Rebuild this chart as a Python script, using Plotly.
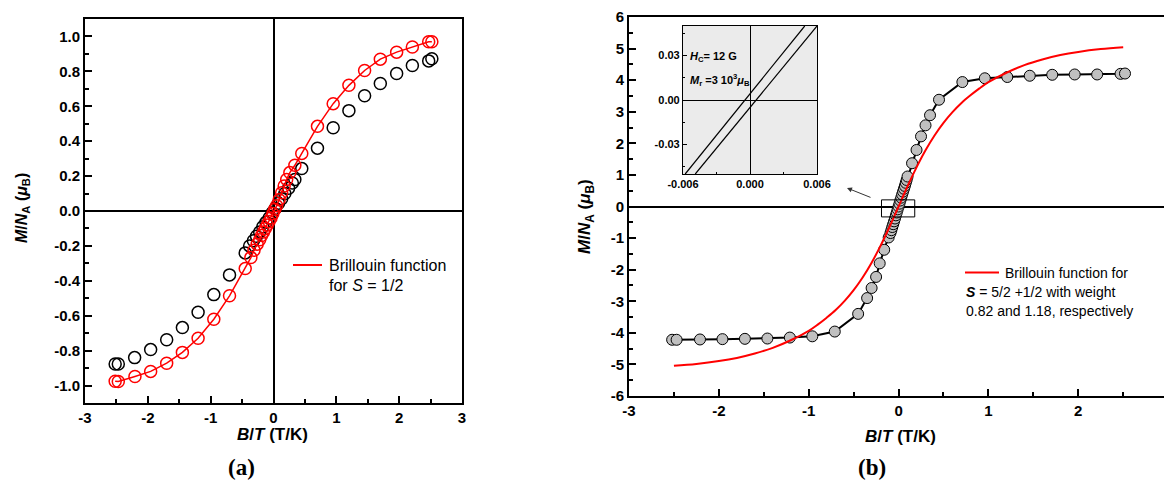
import plotly.graph_objects as go

FONT = "Liberation Sans, Arial, sans-serif"
SERIF = "Liberation Serif, Times New Roman, serif"

# ---------------- Panel (a) data ----------------
a_black_x = [-2.52, -2.47, -2.21, -1.955, -1.70, -1.45, -1.20, -0.95, -0.70, -0.45, -0.38, -0.32, -0.27,
             -0.22, -0.17, -0.12, -0.07, -0.02, 0.03, 0.08, 0.13, 0.18, 0.24, 0.30, 0.34, 0.45, 0.70,
             0.95, 1.20, 1.45, 1.70, 1.96, 2.21, 2.47, 2.52]
a_black_y = [-0.877, -0.877, -0.84, -0.794, -0.738, -0.668, -0.58, -0.479, -0.366, -0.24, -0.20, -0.17,
             -0.145, -0.12, -0.09, -0.065, -0.04, -0.01, 0.015, 0.045, 0.07, 0.10, 0.13, 0.16, 0.18,
             0.243, 0.36, 0.477, 0.575, 0.66, 0.73, 0.788, 0.834, 0.86, 0.872]

a_red_x = [-2.52, -2.47, -2.205, -1.955, -1.70, -1.45, -1.20, -0.95, -0.70, -0.45, -0.36, -0.31, -0.26,
           -0.22, -0.19, -0.16, -0.13, -0.10, -0.07, -0.04, -0.01, 0.02, 0.05, 0.09, 0.13, 0.17, 0.21,
           0.26, 0.34, 0.45, 0.70, 0.95, 1.20, 1.45, 1.70, 1.96, 2.21, 2.47, 2.52]
a_red_y = [-0.975, -0.977, -0.948, -0.919, -0.872, -0.81, -0.729, -0.62, -0.486, -0.33, -0.267, -0.225,
           -0.19, -0.165, -0.14, -0.12, -0.10, -0.08, -0.06, -0.04, -0.015, 0.01, 0.03, 0.065, 0.105,
           0.143, 0.181, 0.22, 0.262, 0.33, 0.485, 0.615, 0.72, 0.805, 0.87, 0.91, 0.94, 0.97, 0.97]

a_xticks = [-3, -2, -1, 0, 1, 2, 3]
a_xticktext = ["-3", "-2", "-1", "0", "1", "2", "3"]
a_yticks = [-1.0, -0.8, -0.6, -0.4, -0.2, 0.0, 0.2, 0.4, 0.6, 0.8, 1.0]
a_yticktext = ["-1.0", "-0.8", "-0.6", "-0.4", "-0.2", "0.0", "0.2", "0.4", "0.6", "0.8", "1.0"]

# ---------------- Panel (b) data ----------------
b_data_x = [-2.52, -2.47, -2.21, -1.96, -1.71, -1.46, -1.21, -0.96, -0.71, -0.45, -0.35, -0.30, -0.25,
            -0.21, -0.16, -0.11, -0.09, -0.08, -0.07, -0.06, -0.05, -0.04, -0.03, -0.02, -0.01, 0.0,
            0.01, 0.02, 0.03, 0.04, 0.05, 0.06, 0.07, 0.08, 0.09, 0.10, 0.15, 0.20, 0.25, 0.30, 0.35,
            0.45, 0.71, 0.96, 1.21, 1.46, 1.71, 1.96, 2.21, 2.47, 2.52]
b_data_y = [-4.22, -4.22, -4.21, -4.20, -4.19, -4.18, -4.15, -4.11, -3.96, -3.40, -2.90, -2.58, -2.23,
            -1.80, -1.37, -0.98, -0.84, -0.75, -0.65, -0.56, -0.47, -0.38, -0.28, -0.19, -0.09, 0.0,
            0.09, 0.19, 0.28, 0.38, 0.47, 0.56, 0.65, 0.75, 0.84, 0.95, 1.37, 1.79, 2.22, 2.57, 2.89,
            3.38, 3.94, 4.06, 4.10, 4.14, 4.17, 4.18, 4.18, 4.20, 4.21]

b_fit_x = [-2.5, -2.25, -2.0, -1.8, -1.6, -1.4, -1.2, -1.0, -0.9, -0.8, -0.7, -0.6, -0.5, -0.4, -0.3,
           -0.2, -0.1, 0.0, 0.1, 0.2, 0.3, 0.4, 0.5, 0.6, 0.7, 0.8, 0.9, 1.0, 1.2, 1.4, 1.6, 1.8, 2.0,
           2.25, 2.5]
b_fit_y = [-5.045, -4.985, -4.895, -4.795, -4.655, -4.475, -4.235, -3.935, -3.74, -3.52, -3.28, -2.99,
           -2.65, -2.25, -1.78, -1.24, -0.64, 0.0, 0.64, 1.24, 1.78, 2.25, 2.65, 2.99, 3.28, 3.52, 3.74,
           3.935, 4.235, 4.475, 4.655, 4.795, 4.895, 4.985, 5.045]

b_xticks = [-3, -2, -1, 0, 1, 2]
b_xticktext = ["-3", "-2", "-1", "0", "1", "2"]
b_yticks = [-6, -5, -4, -3, -2, -1, 0, 1, 2, 3, 4, 5, 6]
b_yticktext = ["-6", "-5", "-4", "-3", "-2", "-1", "0", "1", "2", "3", "4", "5", "6"]

# zoom box around the origin (data units of panel b)
box_x = [-0.19, 0.18]
box_y = [-0.33, 0.21]

# ---------------- Inset data ----------------
inset_up_x = [-0.0058, 0.0049]
inset_up_y = [-0.05, 0.05]
inset_dn_x = [-0.0049, 0.0060]
inset_dn_y = [-0.05, 0.05]
in_xticks = [-0.006, 0.0, 0.006]
in_xticktext = ["-0.006", "0.000", "0.006"]
in_yticks = [-0.03, 0.0, 0.03]
in_yticktext = ["-0.03", "0.00", "0.03"]

W, H = 1164, 484


def px_x(p):
    return p / W


def px_y(p):
    return 1 - p / H


def base_axis(size=15, lw=2, tl=7, mtl=4, tw=1.5):
    return dict(showline=True, linecolor="black", linewidth=lw, ticks="inside", ticklen=tl,
                tickwidth=tw, tickcolor="black", showgrid=False, zeroline=False, automargin=False,
                tickfont=dict(family=FONT, size=size, color="black", weight="bold"),
                minor=dict(ticks="inside", ticklen=mtl, tickwidth=tw, tickcolor="black", showgrid=False))


fig = go.Figure()

# Panel (a)
fig.add_trace(go.Scatter(x=a_black_x, y=a_black_y, mode="markers", xaxis="x", yaxis="y",
                         marker=dict(symbol="circle-open", size=12, color="black", line=dict(width=1.5)),
                         showlegend=False))
fig.add_trace(go.Scatter(x=a_red_x, y=a_red_y, mode="lines+markers", xaxis="x", yaxis="y",
                         line=dict(color="#ff0000", width=1.5),
                         marker=dict(symbol="circle-open", size=12, color="#ff0000", line=dict(width=1.5)),
                         showlegend=False))

# Panel (b)
fig.add_trace(go.Scatter(x=b_data_x, y=b_data_y, mode="lines+markers", xaxis="x2", yaxis="y2",
                         line=dict(color="black", width=2),
                         marker=dict(symbol="circle", size=11, color="#c0c0c0",
                                     line=dict(color="black", width=1)),
                         showlegend=False))
fig.add_trace(go.Scatter(x=b_fit_x, y=b_fit_y, mode="lines", xaxis="x2", yaxis="y2",
                         line=dict(color="#ff0000", width=2, shape="spline"), showlegend=False))

# Inset
fig.add_trace(go.Scatter(x=inset_up_x, y=inset_up_y, mode="lines", xaxis="x3", yaxis="y3",
                         line=dict(color="black", width=1.2), showlegend=False))
fig.add_trace(go.Scatter(x=inset_dn_x, y=inset_dn_y, mode="lines", xaxis="x3", yaxis="y3",
                         line=dict(color="black", width=1.2), showlegend=False))

xa = base_axis()
xa.update(domain=[px_x(85), px_x(462)], range=[-3, 3], tickvals=a_xticks, ticktext=a_xticktext,
          mirror=True, zeroline=True, zerolinecolor="black", zerolinewidth=2, anchor="y")
xa["minor"]["dtick"] = 0.5
ya = base_axis()
ya.update(domain=[px_y(403), px_y(19)], range=[-1.1, 1.1], tickvals=a_yticks, ticktext=a_yticktext,
          mirror=True, zeroline=True, zerolinecolor="black", zerolinewidth=2, anchor="x")
ya["minor"]["dtick"] = 0.1

xb = base_axis()
xb.update(domain=[px_x(629), 1.0], range=[-3, 2.954], tickvals=b_xticks, ticktext=b_xticktext,
          mirror=True, anchor="y2")
xb["minor"]["dtick"] = 0.5
yb = base_axis()
yb.update(domain=[px_y(396), px_y(17)], range=[-6, 6], tickvals=b_yticks, ticktext=b_yticktext,
          mirror=False, zeroline=True, zerolinecolor="black", zerolinewidth=2, anchor="x2")
yb["minor"]["dtick"] = 0.5

xi = base_axis(size=11, lw=1.2, tl=4, mtl=2, tw=1)
xi.update(domain=[px_x(683), px_x(817)], range=[-0.006, 0.006], tickvals=in_xticks,
          ticktext=in_xticktext, mirror=True, zeroline=True, zerolinecolor="black",
          zerolinewidth=1.2, anchor="y3")
xi["minor"]["dtick"] = 0.003
yi = base_axis(size=11, lw=1.2, tl=4, mtl=2, tw=1)
yi.update(domain=[px_y(174), px_y(26)], range=[-0.05, 0.05], tickvals=in_yticks,
          ticktext=in_yticktext, mirror=True, zeroline=True, zerolinecolor="black",
          zerolinewidth=1.2, anchor="x3")
yi["minor"]["dtick"] = 0.015

shapes = [
    # inset background
    dict(type="rect", xref="x3 domain", yref="y3 domain", x0=0, x1=1, y0=0, y1=1,
         fillcolor="#ebebeb", line=dict(width=0), layer="below"),
    # zoom box in panel b
    dict(type="rect", xref="x2", yref="y2", x0=box_x[0], x1=box_x[1], y0=box_y[0], y1=box_y[1],
         line=dict(color="black", width=1), fillcolor="rgba(0,0,0,0)", layer="above"),
    # legend keys
    dict(type="line", xref="paper", yref="paper", x0=px_x(293), x1=px_x(322), y0=px_y(265), y1=px_y(265),
         line=dict(color="#ff0000", width=2)),
    dict(type="line", xref="paper", yref="paper", x0=px_x(965), x1=px_x(999), y0=px_y(272.5),
         y1=px_y(272.5), line=dict(color="#ff0000", width=2)),
]

txt = dict(family=FONT, color="black")
annotations = [
    # legends
    dict(x=px_x(327), y=px_y(265), text="Brillouin function", xanchor="left", yanchor="middle",
         font=dict(size=16, **txt)),
    dict(x=px_x(327), y=px_y(285), text="for <i>S</i> = 1/2", xanchor="left", yanchor="middle",
         font=dict(size=16, **txt)),
    dict(x=px_x(1003), y=px_y(272.5), text="Brillouin function for", xanchor="left", yanchor="middle",
         font=dict(size=14, **txt)),
    dict(x=px_x(964), y=px_y(291.5), text="<b><i>S</i></b> = 5/2 +1/2 with weight", xanchor="left",
         yanchor="middle", font=dict(size=14, **txt)),
    dict(x=px_x(964), y=px_y(310.5), text="0.82 and 1.18, respectively", xanchor="left",
         yanchor="middle", font=dict(size=14, **txt)),
    # axis titles
    dict(x=px_x(272), y=px_y(434), text="<b><i>B</i>/<i>T</i> (T/K)</b>", xanchor="center",
         yanchor="middle", font=dict(size=17, **txt)),
    dict(x=px_x(900), y=px_y(436), text="<b><i>B</i>/<i>T</i> (T/K)</b>", xanchor="center",
         yanchor="middle", font=dict(size=17, **txt)),
    dict(x=px_x(22), y=px_y(208), text="<b><i>M</i>/<i>N</i><sub>A</sub> (<i>μ</i><sub>B</sub>)</b>",
         textangle=-90, xanchor="center", yanchor="middle", font=dict(size=16, **txt)),
    dict(x=px_x(586), y=px_y(217), text="<b><i>M</i>/<i>N</i><sub>A</sub> (<i>μ</i><sub>B</sub>)</b>",
         textangle=-90, xanchor="center", yanchor="middle", font=dict(size=17, **txt)),
    # panel labels
    dict(x=px_x(241), y=px_y(467), text="<b>(a)</b>", xanchor="center", yanchor="middle",
         font=dict(size=23, family=SERIF, color="black")),
    dict(x=px_x(872), y=px_y(467), text="<b>(b)</b>", xanchor="center", yanchor="middle",
         font=dict(size=23, family=SERIF, color="black")),
    # inset texts
    dict(x=px_x(688), y=px_y(57), text="<b><i>H</i><sub>C</sub>= 12 G</b>", xanchor="left",
         yanchor="middle", font=dict(size=11, **txt)),
    dict(x=px_x(688), y=px_y(80), text="<b><i>M</i><sub>r</sub> =3 10<sup>3</sup><i>μ</i><sub>B</sub></b>",
         xanchor="left", yanchor="middle", font=dict(size=11, **txt)),
    # arrow
    dict(x=px_x(847), y=px_y(188), ax=25, ay=10, xref="paper", yref="paper",
         axref="pixel", ayref="pixel", text="", showarrow=True, arrowhead=2, arrowsize=1,
         arrowwidth=1, arrowcolor="#333333"),
]
for a in annotations:
    a.setdefault("xref", "paper")
    a.setdefault("yref", "paper")
    a.setdefault("showarrow", False)

fig.update_layout(
    width=W, height=H, autosize=False,
    margin=dict(l=0, r=0, t=0, b=0, pad=0, autoexpand=False),
    paper_bgcolor="white", plot_bgcolor="rgba(0,0,0,0)",
    xaxis=xa, yaxis=ya, xaxis2=xb, yaxis2=yb, xaxis3=xi, yaxis3=yi,
    shapes=shapes, annotations=annotations,
    showlegend=False,
)

fig.write_html("out.html", config={"displayModeBar": False},
               post_script="document.body.style.margin='0px';")
